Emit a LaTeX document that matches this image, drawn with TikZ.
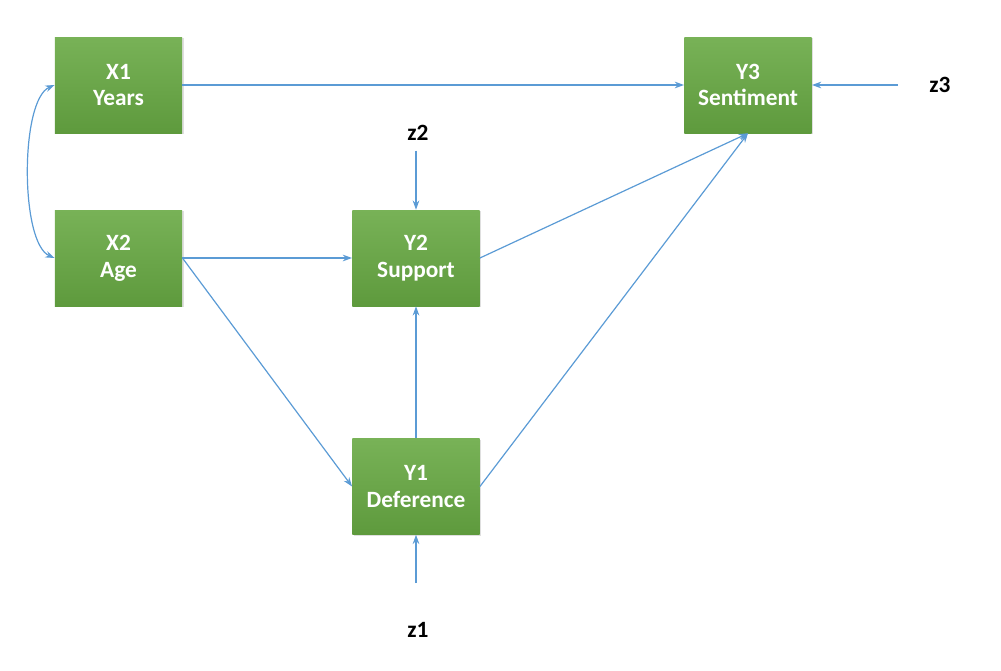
\documentclass[tikz,border=0pt]{standalone}
\usepackage{fontspec}
\setmainfont{Carlito}
\usetikzlibrary{arrows.meta,positioning,shadows}
\definecolor{boxtop}{HTML}{78B257}
\definecolor{boxbot}{HTML}{5E9A3D}
\definecolor{pathblue}{HTML}{5B9BD5}
\tikzset{
    %Define standard arrow tip
    >={Stealth[length=7pt,width=5pt]},
    %Define style for variable boxes
    varbox/.style={
           rectangle,
           top color=boxtop, bottom color=boxbot,
           draw=none,
           drop shadow={shadow xshift=1pt, shadow yshift=-1pt, opacity=0.25},
           minimum width=95.5pt,
           minimum height=72pt,
           text=white,
           align=center,
           font=\fontsize{17.5}{20}\selectfont\bfseries},
    %Define style for error terms
    errlab/.style={
           font=\fontsize{17.5}{20}\selectfont\bfseries,
           text=black},
    % Define arrow style
    pil/.style={
           ->,
           draw=pathblue,
           line width=0.9pt}
}
\begin{document}
\begin{tikzpicture}[x=0.75pt,y=-0.75pt]
\useasboundingbox (0,0) rectangle (1001,671);
\node[varbox] (X1) at (118.5,85) {X1\\Years};
\node[varbox] (X2) at (118.5,258) {X2\\Age};
\node[varbox] (Y2) at (416,258) {Y2\\Support};
\node[varbox] (Y1) at (416,486.5) {Y1\\Deference};
\node[varbox] (Y3) at (748,85) {Y3\\Sentiment};

\node[errlab] (z3) at (940,85) {z3};
\node[errlab] (z2) at (418,133) {z2};
\node[errlab] (z1) at (418,630) {z1};

\path   (X1)      edge[pil]                (Y3)
        (z3)      edge[pil, shorten <=20pt] (Y3)
        (z2.south -| Y2.north) edge[pil, shorten <=4pt]  (Y2)
        (X2)      edge[pil]                (Y2)
        (X2.east) edge[pil]                (Y1.west)
        (Y1)      edge[pil]                (Y2)
        (Y2.east) edge[pil]                (Y3.south)
        (Y1.east) edge[pil]                (Y3.south)
        (z1.north -| Y1.south) edge[pil, shorten <=26pt] (Y1);

\draw[pil, <->] (X1.west) .. controls (20,100) and (20,243) .. (X2.west);
\end{tikzpicture}
\end{document}
